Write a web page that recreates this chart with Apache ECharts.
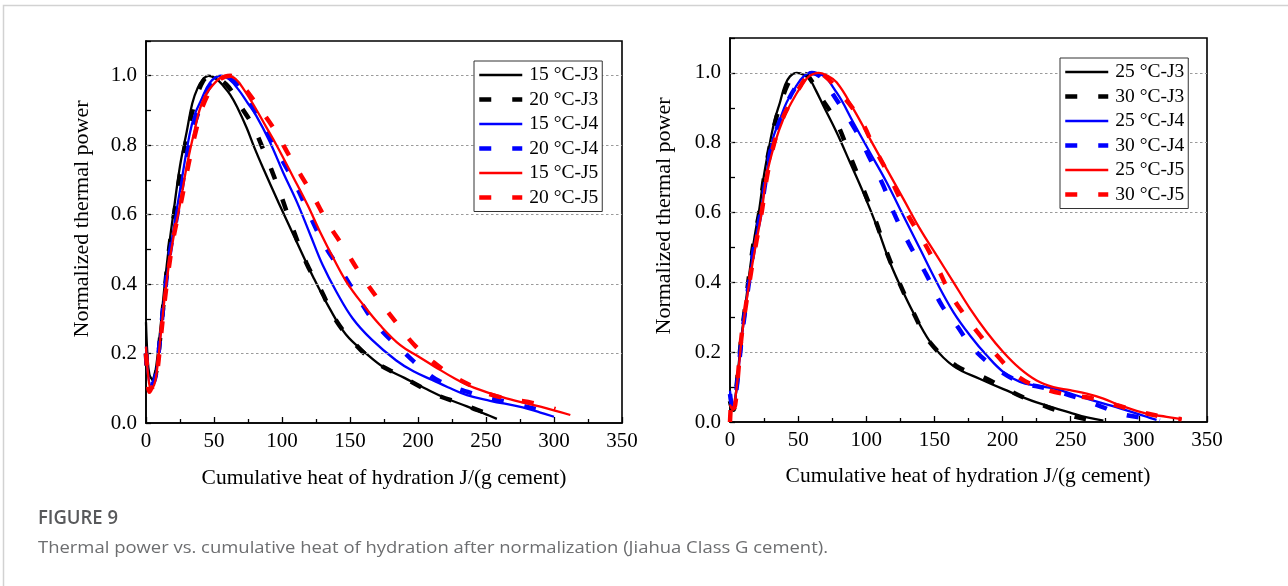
<!DOCTYPE html>
<html>
<head>
<meta charset="utf-8">
<script src="https://cdn.jsdelivr.net/npm/echarts@6/dist/echarts.min.js"></script>
<style>
html,body{margin:0;padding:0;background:#fff;}
#chart{width:1288px;height:586px;}
</style>
</head>
<body>
<div id="chart"></div>
<script>
// ---------- data (x: cumulative heat J/g, y: normalized thermal power) ----------
var xTicks = [0, 50, 100, 150, 200, 250, 300, 350];
var yTicks = [0.0, 0.2, 0.4, 0.6, 0.8, 1.0];

var leftNames  = ['15 °C-J3', '20 °C-J3', '15 °C-J4', '20 °C-J4', '15 °C-J5', '20 °C-J5'];
var rightNames = ['25 °C-J3', '30 °C-J3', '25 °C-J4', '30 °C-J4', '25 °C-J5', '30 °C-J5'];

var L15J3 = [[0,0.29],[1,0.2],[2.5,0.14],[5,0.125],[7,0.15],[10,0.25],[13,0.37],[16,0.48],[20,0.6],[25,0.74],[30,0.84],[34,0.92],[38,0.965],[42,0.99],[46,1.0],[52,0.99],[57,0.97],[62,0.945],[67,0.91],[74,0.85],[80,0.79],[86,0.735],[98,0.63],[111,0.52],[123,0.42],[135,0.33],[147,0.255],[162,0.2],[175,0.16],[190,0.13],[205,0.1],[220,0.072],[236,0.048],[250,0.025],[258,0.012]];
var L20J3 = [[0,0.2],[1.5,0.13],[4,0.115],[6,0.125],[8,0.16],[11,0.27],[14,0.39],[17,0.5],[21,0.61],[26,0.74],[31,0.84],[35,0.91],[42,0.985],[48,1.0],[54,0.99],[59,0.975],[64,0.95],[70,0.91],[78,0.86],[87,0.78],[97,0.68],[107,0.57],[118,0.46],[129,0.38],[139,0.3],[152,0.235],[167,0.18],[185,0.14],[204,0.1],[216,0.077],[231,0.057],[244,0.037],[252,0.026]];
var L15J4 = [[0,0.22],[1.5,0.14],[3.5,0.11],[6,0.12],[8,0.16],[11,0.27],[14,0.38],[18,0.5],[22,0.6],[25,0.67],[32,0.83],[36,0.89],[40,0.925],[47,0.98],[55,1.0],[61,0.99],[68,0.96],[75,0.92],[81,0.885],[91,0.81],[101,0.72],[111,0.636],[121,0.54],[130,0.454],[140,0.378],[152,0.301],[166,0.24],[184,0.18],[197,0.148],[210,0.125],[222,0.103],[236,0.08],[253,0.064],[277,0.045],[290,0.03],[300,0.018]];
var L20J4 = [[0,0.2],[1.5,0.13],[3.5,0.11],[6,0.12],[8,0.16],[11,0.27],[14,0.38],[18,0.5],[23,0.6],[26,0.67],[33,0.82],[41,0.92],[48,0.975],[57,1.0],[63,0.99],[68,0.97],[73.5,0.942],[87.5,0.847],[98.5,0.768],[110,0.686],[121,0.593],[132,0.507],[145,0.43],[157,0.354],[170,0.28],[188,0.21],[204,0.153],[216,0.12],[240,0.085],[265,0.061],[290,0.037],[299,0.025]];
var L15J5 = [[0,0.22],[1.5,0.14],[3.5,0.1],[6,0.11],[8,0.15],[11,0.26],[14,0.37],[17,0.46],[20,0.53],[25,0.63],[30,0.74],[35,0.83],[42,0.93],[52,0.985],[60,1.0],[66,0.99],[72,0.96],[80,0.91],[88,0.855],[96,0.8],[108,0.71],[119,0.626],[128,0.55],[138,0.473],[147.5,0.406],[160,0.339],[172,0.282],[187,0.224],[200,0.192],[212,0.163],[228,0.126],[241,0.102],[265,0.071],[290,0.047],[312,0.023]];
var L20J5 = [[0,0.2],[1,0.15],[2.5,0.09],[4,0.1],[6,0.11],[8,0.14],[11,0.25],[14,0.36],[18,0.48],[21,0.55],[26,0.64],[31,0.74],[36,0.83],[43,0.925],[53,0.985],[62,1.0],[68,0.985],[73,0.962],[80,0.925],[94.4,0.845],[106,0.765],[122,0.66],[134,0.574],[146,0.502],[158,0.427],[171,0.355],[185,0.284],[197,0.226],[211,0.176],[226,0.135],[241,0.104],[255,0.08],[272,0.066],[284,0.058],[297,0.045],[301,0.04]];

var R25J3 = [[0,0.07],[1,0.05],[2.5,0.035],[4,0.07],[6,0.15],[8.6,0.25],[11.5,0.34],[14.7,0.44],[18,0.53],[21.5,0.61],[24.9,0.706],[29.3,0.8],[33,0.868],[36.7,0.916],[40.3,0.964],[44,0.99],[49,1.0],[54,0.995],[58.7,0.98],[63,0.95],[68.5,0.906],[78.2,0.83],[88,0.744],[97.8,0.657],[107.6,0.562],[117.4,0.457],[127.2,0.371],[137,0.295],[149,0.218],[164,0.16],[183.5,0.123],[200.6,0.094],[225,0.056],[249.5,0.027],[262,0.013],[274,0.004]];
var R30J3 = [[0,0.06],[1,0.045],[2.5,0.035],[4,0.07],[6,0.15],[8.6,0.25],[11.5,0.34],[14.7,0.44],[18,0.53],[21.5,0.6],[25,0.7],[29.5,0.795],[33.5,0.865],[37.5,0.915],[41.5,0.96],[46,0.99],[51,1.0],[56,0.995],[61,0.97],[66,0.935],[78.2,0.858],[88,0.763],[97.8,0.667],[106.4,0.581],[115,0.486],[124.7,0.395],[134.5,0.314],[146.7,0.228],[166,0.161],[186,0.128],[200,0.1],[220,0.062],[235,0.04],[249.5,0.019],[260,0.009],[270,0.004]];
var R25J4 = [[0,0.09],[1,0.06],[2.5,0.04],[4,0.07],[6,0.14],[8.6,0.24],[11.5,0.33],[15,0.43],[18.5,0.52],[22.5,0.6],[26.5,0.7],[30.6,0.8],[36.7,0.868],[41.6,0.916],[48.9,0.964],[54,0.99],[58.7,1.0],[66,0.997],[78.2,0.944],[90.5,0.858],[102.7,0.772],[114.9,0.687],[127.2,0.591],[139.4,0.496],[151.6,0.401],[163.9,0.315],[176.1,0.248],[188.3,0.191],[200.6,0.143],[212.8,0.115],[225,0.104],[237.3,0.096],[261.7,0.067],[286.2,0.039],[305.7,0.015],[313,0.006]];
var R30J4 = [[0,0.08],[1,0.055],[2.5,0.04],[4,0.07],[6,0.14],[8.6,0.24],[11.5,0.33],[15,0.43],[18.5,0.52],[22.5,0.6],[26.5,0.7],[31,0.8],[37,0.868],[42,0.916],[49,0.964],[55,0.99],[60,1.0],[66,0.99],[74.6,0.944],[91.7,0.839],[102,0.76],[112.5,0.677],[120,0.601],[132,0.506],[144.4,0.42],[155.4,0.334],[166.3,0.277],[178.5,0.21],[195.6,0.153],[212.8,0.115],[232.4,0.096],[256.8,0.067],[272,0.045],[286,0.024],[305.7,0.01],[315.5,0.004]];
var R25J5 = [[0,0.05],[1,0.04],[2.5,0.035],[4,0.07],[6,0.14],[8.6,0.24],[11.5,0.33],[15.9,0.44],[19.5,0.52],[23.2,0.6],[26.9,0.706],[33,0.8],[39.1,0.868],[45.2,0.916],[52.6,0.964],[58,0.99],[65,1.0],[70,0.995],[78.2,0.973],[90.5,0.897],[102.7,0.811],[114.9,0.725],[127.2,0.639],[139.4,0.553],[151.6,0.477],[163.9,0.401],[176.1,0.325],[188.3,0.258],[200.6,0.2],[212.8,0.153],[225,0.119],[237.3,0.1],[249.5,0.091],[261.7,0.081],[274,0.067],[286.2,0.048],[305.7,0.024],[320.4,0.015],[331.4,0.008]];
var R30J5 = [[0,0.0],[1.5,0.07],[3,0.04],[4.5,0.07],[6,0.14],[8.6,0.25],[11.5,0.33],[15.9,0.44],[19.5,0.52],[23.2,0.6],[27,0.7],[32.5,0.8],[38.5,0.868],[44.5,0.916],[52,0.964],[57,0.99],[63.6,1.0],[70,0.99],[79.5,0.95],[95.4,0.868],[106,0.785],[117.4,0.701],[129.6,0.6],[141.8,0.519],[152.8,0.438],[160,0.38],[168.7,0.325],[183.5,0.248],[195.8,0.191],[211.6,0.129],[229.9,0.096],[249.5,0.077],[266.6,0.067],[283.7,0.048],[300.8,0.029],[317.9,0.015],[331.4,0.008]];

var leftData  = [L15J3, L20J3, L15J4, L20J4, L15J5, L20J5];
var rightData = [R25J3, R30J3, R25J4, R30J4, R25J5, R30J5];

var xTitle = 'Cumulative heat of hydration J/(g cement)';
var yTitle = 'Normalized thermal power';
var figLabel = 'FIGURE 9';
var figCaption = 'Thermal power vs. cumulative heat of hydration after normalization (Jiahua Class G cement).';

// ---------- styles ----------
var colors = ['#000000', '#000000', '#0000ff', '#0000ff', '#ff0000', '#ff0000'];
var dashed = [false, true, false, true, false, true];
var SERIF = 'Liberation Serif';
var DASH = [12, 21];

function lineStyleFor(i) {
  return dashed[i]
    ? {color: colors[i], width: 4.5, type: DASH}
    : {color: colors[i], width: 2.3, type: 'solid'};
}

function xAxisCfg(gi) {
  return {
    type: 'value', gridIndex: gi, min: 0, max: 350, interval: 50,
    axisLine: {show: true, onZero: false, lineStyle: {color: '#000', width: 1.6}},
    axisTick: {show: true, inside: true, length: 6, lineStyle: {color: '#000', width: 1.3}},
    minorTick: {show: true, splitNumber: 2, length: 4, lineStyle: {color: '#000', width: 1.3}},
    axisLabel: {fontFamily: SERIF, fontSize: 21, color: '#000', margin: 8,
      formatter: function (v) { return xTicks.indexOf(v) >= 0 ? String(v) : ''; }},
    splitLine: {show: false}
  };
}
function yAxisCfg(gi) {
  return {
    type: 'value', gridIndex: gi, min: 0, max: 1.1, interval: 0.1,
    axisLine: {show: true, onZero: false, lineStyle: {color: '#000', width: 1.6}},
    axisTick: {show: true, inside: true, length: 5, lineStyle: {color: '#000', width: 1.3}},
    axisLabel: {fontFamily: SERIF, fontSize: 21, color: '#000', margin: 9,
      formatter: function (v) {
        for (var i = 0; i < yTicks.length; i++) {
          if (Math.abs(yTicks[i] - v) < 1e-6) return yTicks[i].toFixed(1);
        }
        return '';
      }},
    splitLine: {show: false}
  };
}

var series = [];
[[leftNames, leftData, 0], [rightNames, rightData, 1]].forEach(function (set) {
  // dotted grid lines at the labelled y ticks
  series.push({
    type: 'line', xAxisIndex: set[2], yAxisIndex: set[2], data: [[0, 0]],
    showSymbol: false, symbol: 'none', lineStyle: {opacity: 0}, silent: true, z: 1,
    markLine: {
      silent: true, symbol: 'none', label: {show: false}, animation: false,
      lineStyle: {type: [2.5, 2.5], color: '#9a9a9a', width: 1},
      data: yTicks.filter(function (v) { return v > 0; }).map(function (v) { return {yAxis: v}; })
    }
  });
  set[0].forEach(function (name, i) {
    series.push({
      name: name, type: 'line', xAxisIndex: set[2], yAxisIndex: set[2],
      data: set[1][i], symbol: 'none', showSymbol: false,
      smooth: 0.4, animation: false, z: 2 + i,
      lineStyle: lineStyleFor(i),
      itemStyle: {color: colors[i]}
    });
  });
});

function legendCfg(names, left, top) {
  return {
    data: names.map(function (n, i) {
      return {name: n, lineStyle: lineStyleFor(i), itemStyle: {opacity: 0}};
    }),
    orient: 'vertical', left: left, top: top, z: 30,
    itemWidth: 43, itemHeight: 14, itemGap: 4.5, padding: [4, 4, 4, 3],
    borderColor: '#333', borderWidth: 1, backgroundColor: '#fff',
    selectedMode: false,
    itemStyle: {opacity: 0},
    textStyle: {fontFamily: SERIF, fontSize: 19.5, color: '#000', padding: [0, 0, 0, 2]}
  };
}

// caption width fitting
function measure(text, font) {
  var c = document.createElement('canvas').getContext('2d');
  c.font = font;
  return c.measureText(text).width;
}
var capFont = '16px "Open Sans"';
var capScale = 790 / measure(figCaption, capFont);
var figFont = '600 19px "Open Sans"';
var figScale = 80 / measure(figLabel, figFont);

var option = {
  backgroundColor: '#fff',
  animation: false,
  grid: [
    {left: 146, top: 41, width: 476, height: 382, show: true, borderColor: '#000', borderWidth: 1.6, backgroundColor: 'transparent'},
    {left: 730, top: 38, width: 477, height: 384, show: true, borderColor: '#000', borderWidth: 1.6, backgroundColor: 'transparent'}
  ],
  xAxis: [xAxisCfg(0), xAxisCfg(1)],
  yAxis: [yAxisCfg(0), yAxisCfg(1)],
  legend: [legendCfg(leftNames, 474, 61), legendCfg(rightNames, 1060, 58)],
  series: series,
  graphic: [
    {type: 'rect', shape: {x: 3.5, y: 5.5, width: 1400, height: 700}, style: {fill: 'none', stroke: '#d2d2d2', lineWidth: 1.5}, silent: true, z: 0},
    {type: 'text', x: 384, y: 478, style: {text: xTitle, font: '21.5px "Liberation Serif"', fill: '#000', textAlign: 'center', textVerticalAlign: 'middle'}},
    {type: 'text', x: 968, y: 476, style: {text: xTitle, font: '21.5px "Liberation Serif"', fill: '#000', textAlign: 'center', textVerticalAlign: 'middle'}},
    {type: 'text', x: 82, y: 219, rotation: Math.PI / 2, style: {text: yTitle, font: '22px "Liberation Serif"', fill: '#000', textAlign: 'center', textVerticalAlign: 'middle'}},
    {type: 'text', x: 664, y: 216, rotation: Math.PI / 2, style: {text: yTitle, font: '22px "Liberation Serif"', fill: '#000', textAlign: 'center', textVerticalAlign: 'middle'}},
    {type: 'text', x: 38, y: 519, scaleX: figScale, style: {text: figLabel, font: figFont, fill: '#58595b', textAlign: 'left', textVerticalAlign: 'middle'}},
    {type: 'text', x: 38, y: 548, scaleX: capScale, style: {text: figCaption, font: capFont, fill: '#6d6e70', textAlign: 'left', textVerticalAlign: 'middle'}}
  ]
};

var chart = echarts.init(document.getElementById('chart'), null, {renderer: 'canvas'});
chart.setOption(option);
</script>
</body>
</html>
